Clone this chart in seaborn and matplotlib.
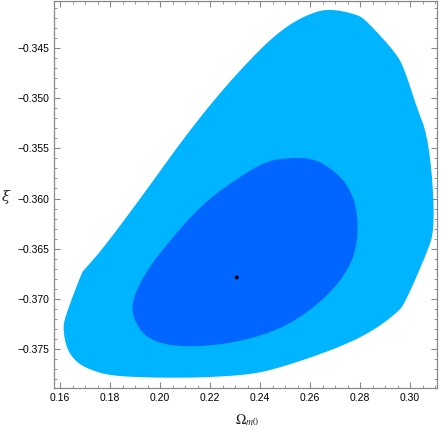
import matplotlib
matplotlib.use("Agg")
import matplotlib.pyplot as plt
import seaborn as sns
from matplotlib.ticker import MultipleLocator

# contour outlines (Omega_m0, xi)
outer_om = [0.1612, 0.1620, 0.1688, 0.1696, 0.1776, 0.1936, 0.2108, 0.2256, 0.2404,
            0.2496, 0.2576, 0.2668, 0.2788, 0.2828, 0.2948, 0.2980, 0.3028, 0.3068,
            0.3092, 0.3096, 0.3072, 0.2980, 0.2948, 0.2840, 0.2692, 0.2480, 0.2360,
            0.2160, 0.1960, 0.1800, 0.1720, 0.1668, 0.1628]
outer_xi = [-0.37310, -0.37181, -0.36734, -0.36714, -0.36486, -0.35950, -0.35354,
            -0.34897, -0.34500, -0.34301, -0.34182, -0.34103, -0.34162, -0.34232,
            -0.34560, -0.34728, -0.35096, -0.35354, -0.35850, -0.36317, -0.36516,
            -0.37042, -0.37141, -0.37340, -0.37509, -0.37688, -0.37757, -0.37787,
            -0.37787, -0.37767, -0.37707, -0.37638, -0.37509]

inner_om = [0.2532, 0.2612, 0.2680, 0.2748, 0.2788, 0.2792, 0.2760, 0.2668, 0.2508,
            0.2308, 0.2092, 0.1948, 0.1888, 0.1892, 0.1948, 0.2040, 0.2172, 0.2308,
            0.2428]
inner_xi = [-0.35592, -0.35602, -0.35692, -0.35850, -0.36089, -0.36416, -0.36685,
            -0.36983, -0.37280, -0.37439, -0.37489, -0.37409, -0.37181, -0.36983,
            -0.36714, -0.36416, -0.36049, -0.35801, -0.35622]

best_om = [0.2307]
best_xi = [-0.36787]


def rounded(xs, ys, n=2):
    # chaikin corner cutting, just to soften the traced outline
    for _ in range(n):
        nx, ny = [], []
        for i in range(len(xs)):
            x0, y0 = xs[i], ys[i]
            x1, y1 = xs[(i + 1) % len(xs)], ys[(i + 1) % len(ys)]
            nx += [0.75 * x0 + 0.25 * x1, 0.25 * x0 + 0.75 * x1]
            ny += [0.75 * y0 + 0.25 * y1, 0.25 * y0 + 0.75 * y1]
        xs, ys = nx, ny
    return xs, ys


sns.set_style("ticks")
plt.rcParams["font.family"] = ["Liberation Sans", "DejaVu Sans"]
plt.rcParams["mathtext.fontset"] = "stix"

fig = plt.figure(figsize=(4.43, 4.32), dpi=100)
ax = fig.add_axes([54 / 443, 1 - 388 / 432, 383 / 443, 387 / 432])

ax.fill(*rounded(outer_om, outer_xi), color="#00B4FF", lw=0)
ax.fill(*rounded(inner_om, inner_xi), color="#0066FF", lw=0)
sns.scatterplot(x=best_om, y=best_xi, ax=ax, color="black", s=8, edgecolor="none", zorder=5)

ax.set_xlim(0.1576, 0.3108)
ax.set_ylim(-0.3789, -0.3403)

ax.xaxis.set_major_locator(MultipleLocator(0.02))
ax.xaxis.set_minor_locator(MultipleLocator(0.005))
ax.yaxis.set_major_locator(MultipleLocator(0.005))
ax.yaxis.set_minor_locator(MultipleLocator(0.001))
ax.xaxis.set_major_formatter(plt.FuncFormatter(lambda v, p: f"{v:.2f}"))
ax.yaxis.set_major_formatter(plt.FuncFormatter(lambda v, p: f"{v:.3f}".replace("-", "\u2212")))

ax.tick_params(which="both", direction="in", top=True, right=True, color="#888888",
               labelsize=7.5, labelcolor="black")
ax.tick_params(which="major", length=4.5, width=0.8)
ax.tick_params(which="minor", length=2.5, width=0.6)
for s in ax.spines.values():
    s.set_color("#888888")
    s.set_linewidth(0.9)

fig.text(247 / 443, 1 - 420 / 432, r"$\Omega_{m0}$", fontsize=10, ha="center", va="center")
fig.text(6 / 443, 1 - 197 / 432, "\u03be", fontsize=10.5, ha="center", va="center",
         family="DejaVu Serif", style="italic")

fig.savefig("out.png", dpi=100)
